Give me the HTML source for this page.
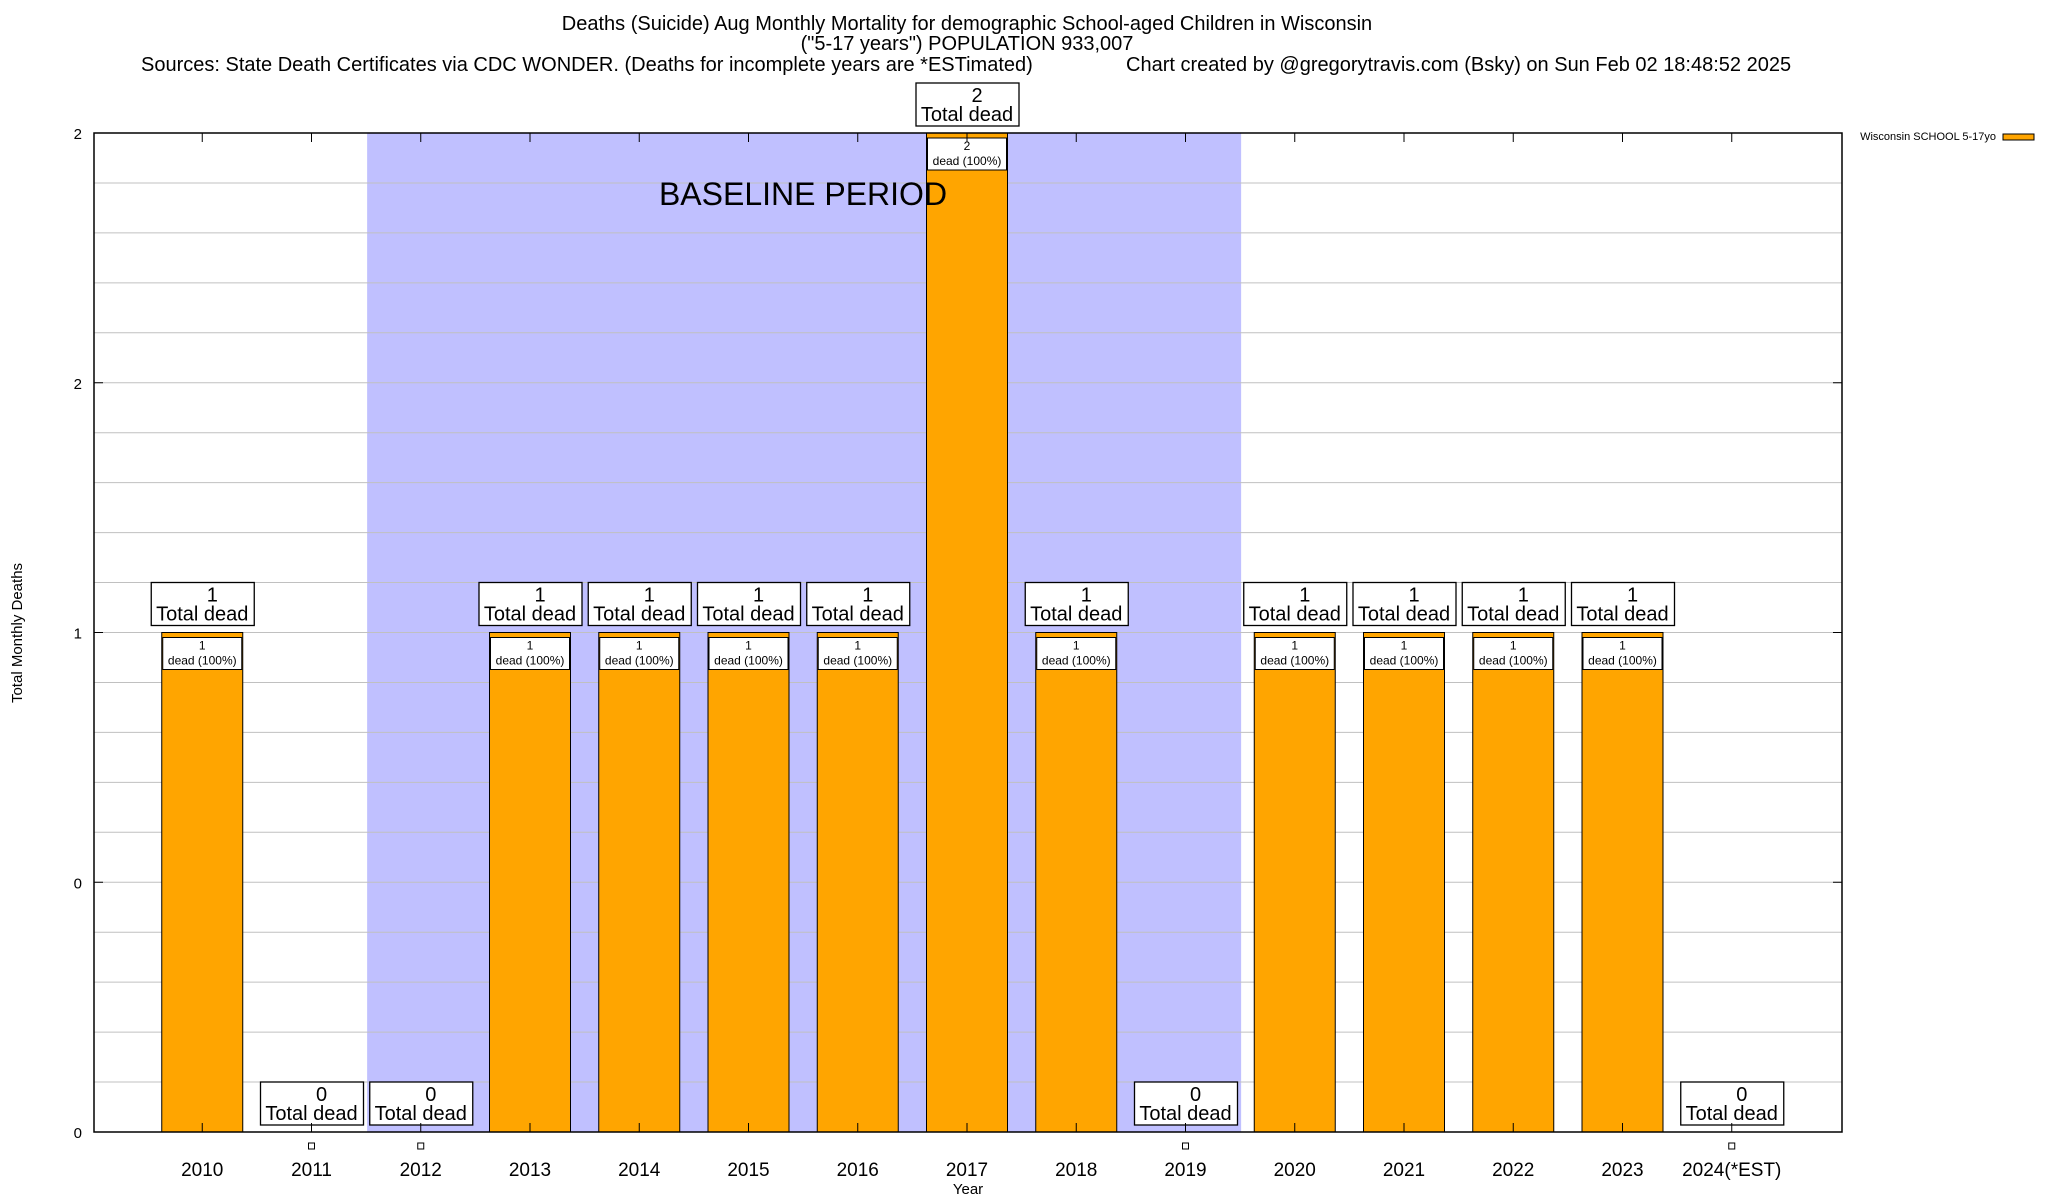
<!DOCTYPE html>
<html><head><meta charset="utf-8"><style>
html,body{margin:0;padding:0;background:#fff;}
svg{display:block;font-family:"Liberation Sans",Arial,sans-serif;}
</style></head><body>
<svg id="chart" width="2048" height="1200" xmlns="http://www.w3.org/2000/svg">
<rect x="0" y="0" width="2048" height="1200" fill="#fff"/>
<g id="shade"></g>
<g id="grid"></g>
<g id="bars"></g>
<g id="overlay"></g>
<g id="axes"></g>
<text x="967" y="30" font-size="20" text-anchor="middle">Deaths (Suicide) Aug Monthly Mortality for demographic School-aged Children in Wisconsin</text>
<text x="967" y="50" font-size="20" text-anchor="middle">("5-17 years") POPULATION 933,007</text>
<text x="141" y="71" font-size="20">Sources: State Death Certificates via CDC WONDER. (Deaths for incomplete years are *ESTimated)</text>
<text x="1126" y="71" font-size="20">Chart created by @gregorytravis.com (Bsky) on Sun Feb 02 18:48:52 2025</text>
<text x="0" y="0" font-size="15" text-anchor="middle" transform="translate(22,633) rotate(-90)">Total Monthly Deaths</text>
<text x="968" y="1194" font-size="15" text-anchor="middle">Year</text>
<g>
<text x="1996" y="140" font-size="11" text-anchor="end">Wisconsin SCHOOL 5-17yo</text>
<rect x="2003" y="134" width="31" height="6" fill="#ffa500" stroke="#000" stroke-width="1"/>
</g>
</svg>
<script>
const categories = ["2010","2011","2012","2013","2014","2015","2016","2017","2018","2019","2020","2021","2022","2023","2024(*EST)"];
const deaths = [1,0,0,1,1,1,1,2,1,0,1,1,1,1,0];
const yTickValues = [0,0.5,1,1.5,2];
const yTickLabels = ["0","0","1","2","2"];
const baselineStart = 1.5, baselineEnd = 9.5;

const L=94,R=1842,T=133,B=1132,XMIN=-1,XMAX=15,YMIN=0,YMAX=2;
const xs=v=>L+(v-XMIN)/(XMAX-XMIN)*(R-L);
const ys=v=>B-(v-YMIN)/(YMAX-YMIN)*(B-T);
const NS="http://www.w3.org/2000/svg";
function mk(tag,attrs,parent,text){const e=document.createElementNS(NS,tag);for(const k in attrs)e.setAttribute(k,attrs[k]);if(text!==undefined)e.textContent=text;parent.appendChild(e);return e;}
const gShade=document.getElementById('shade'),gGrid=document.getElementById('grid'),gBars=document.getElementById('bars'),gAxes=document.getElementById('axes'),gOver=document.getElementById('overlay');

let sh=mk('rect',{x:xs(baselineStart),y:T,width:xs(baselineEnd)-xs(baselineStart),height:B-T,fill:'#c0c0ff'},gShade);


let st=mk('text',{x:803,y:205,'font-size':32,'text-anchor':'middle'},gOver,'BASELINE PERIOD');



for(let v=0;v<=20;v++){const y=ys(v/10);
 const g=mk('line',{x1:L,x2:R,y1:y,y2:y,stroke:'#c0c0c0','stroke-width':1},gGrid);
 
 
}
yTickValues.forEach((v,i)=>{const y=ys(v);
 mk('line',{x1:L,x2:L+9,y1:y,y2:y,stroke:'#000'},gAxes);
 mk('line',{x1:R-9,x2:R,y1:y,y2:y,stroke:'#000'},gAxes);
 const t=mk('text',{x:L-12,y:y+6,'font-size':15,'text-anchor':'end'},gAxes,yTickLabels[i]);
 
 
});

const bw=81;
categories.forEach((c,i)=>{const cx=xs(i)-1,v=deaths[i];
 mk('line',{x1:cx,x2:cx,y1:B,y2:B-9,stroke:'#000'},gAxes);
 mk('line',{x1:cx,x2:cx,y1:T,y2:T+9,stroke:'#000'},gAxes);
 const xl=mk('text',{x:cx,y:1176,'font-size':19,'text-anchor':'middle'},gAxes,c);
 
 
 const top=ys(v);
 if(v>0){
  const b=mk('rect',{x:cx-bw/2,y:top,width:bw,height:B-top,fill:'#ffa500',stroke:'#000','stroke-width':1},gBars);
  
  
  const ib=mk('rect',{x:cx-bw/2+1,y:top+5,width:bw-2,height:32,fill:'#fff',stroke:'#000','stroke-width':1},gBars);
  
  
  mk('text',{x:cx,y:top+17,'font-size':12,'text-anchor':'middle'},gBars,String(v));
  mk('text',{x:cx,y:top+32,'font-size':12,'text-anchor':'middle'},gBars,'dead (100%)');
 } else {
  const m=mk('rect',{x:cx-3,y:B+11,width:6,height:6,fill:'#fff',stroke:'#000','stroke-width':1},gBars);
  
  
 }
 const by=top-50;
 const lb=mk('rect',{x:cx-51,y:by,width:103,height:43,fill:'#fff',stroke:'#000','stroke-width':1.3},gBars);
 
 
 mk('text',{x:cx+10,y:by+19,'font-size':20,'text-anchor':'middle'},gBars,String(v));
 mk('text',{x:cx,y:by+38,'font-size':20,'text-anchor':'middle'},gBars,'Total dead');
});
const fr=mk('rect',{x:L,y:T,width:R-L,height:B-T,fill:'none',stroke:'#000','stroke-width':1.5},gAxes);


</script>
</body></html>
